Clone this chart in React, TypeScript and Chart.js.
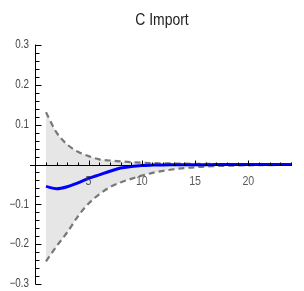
import React, { useEffect, useRef } from "react";
import { Chart, registerables } from "chart.js";

Chart.register(...registerables);

const title = "C Import";
const steps = [1, 2, 3, 4, 5, 6, 7, 8, 9, 10, 11, 12, 13, 14, 15, 16, 17, 18, 19, 20, 21, 22, 23, 24];
const meanValues = [-0.055, -0.061, -0.056, -0.046, -0.035, -0.026, -0.017, -0.009, -0.005, -0.0025, -0.0015, -0.001, -0.0008, -0.0006, -0.0005, -0.0004, -0.0003, -0.0003, -0.0002, -0.0002, -0.0001, -0.0001, -0.0001, -0.0001];
const upperValues = [0.131, 0.08, 0.05, 0.032, 0.021, 0.013, 0.01, 0.008, 0.006, 0.0045, 0.0035, 0.003, 0.0025, 0.002, 0.0018, 0.0015, 0.0013, 0.0012, 0.001, 0.0009, 0.0008, 0.0007, 0.0006, 0.0005];
const lowerValues = [-0.243, -0.205, -0.17, -0.13, -0.098, -0.075, -0.057, -0.045, -0.036, -0.028, -0.021, -0.016, -0.012, -0.009, -0.007, -0.005, -0.004, -0.003, -0.0025, -0.002, -0.0018, -0.0015, -0.0012, -0.001];
const xMinorTicks = [1, 2, 3, 4, 5, 6, 7, 8, 9, 10, 11, 12, 13, 14, 15, 16, 17, 18, 19, 20, 21, 22, 23, 24];
const xLabelTicks = [5, 10, 15, 20];
const yMajorTicks = [-0.3, -0.2, -0.1, 0.1, 0.2, 0.3];
const yLabels = ["\u22120.3", "\u22120.2", "\u22120.1", "0.1", "0.2", "0.3"];

const FONT = "'Liberation Sans', Arial, sans-serif";
const SQUEEZE = 0.82;

function squeezedText(ctx: CanvasRenderingContext2D, text: string, x: number, y: number, align: CanvasTextAlign) {
  ctx.save();
  ctx.translate(x, y);
  ctx.scale(SQUEEZE, 1);
  ctx.textAlign = align;
  ctx.fillText(text, 0, 0);
  ctx.restore();
}

const axesPlugin = {
  id: "mmaAxes",
  beforeDatasetsDraw(chart: any) {
    const ctx: CanvasRenderingContext2D = chart.ctx;
    const ys = chart.scales.y;
    ctx.save();
    ctx.textBaseline = "middle";
    ctx.fillStyle = "#222";
    ctx.font = `17px ${FONT}`;
    squeezedText(ctx, title, 162, 20.5, "center");
    ctx.fillStyle = "#444";
    ctx.font = `12px ${FONT}`;
    yMajorTicks.forEach((v, i) => {
      squeezedText(ctx, yLabels[i], 29, ys.getPixelForValue(v), "right");
    });
    ctx.restore();
  },
  afterDatasetsDraw(chart: any) {
    const ctx: CanvasRenderingContext2D = chart.ctx;
    const xs = chart.scales.x;
    const ys = chart.scales.y;
    const area = chart.chartArea;
    const x0 = Math.round(xs.getPixelForValue(0)) + 0.5;
    const y0 = Math.round(ys.getPixelForValue(0)) + 0.5;
    ctx.save();
    ctx.textBaseline = "middle";
    ctx.fillStyle = "rgba(60,60,60,0.85)";
    ctx.font = `13px ${FONT}`;
    xLabelTicks.forEach((v) => {
      squeezedText(ctx, String(v), xs.getPixelForValue(v), y0 + 16, "center");
    });
    ctx.strokeStyle = "#000";
    ctx.lineWidth = 1;
    ctx.beginPath();
    ctx.moveTo(area.left, y0);
    ctx.lineTo(area.right, y0);
    ctx.moveTo(x0, ys.getPixelForValue(0.3) - 0.5);
    ctx.lineTo(x0, ys.getPixelForValue(-0.3) + 0.5);
    xMinorTicks.forEach((v) => {
      const px = Math.round(xs.getPixelForValue(v)) + 0.5;
      const len = v % 5 === 0 ? 5 : 3;
      ctx.moveTo(px, y0);
      ctx.lineTo(px, y0 - len);
    });
    for (let k = -15; k <= 15; k++) {
      if (k === 0) continue;
      const v = k * 0.02;
      const py = Math.round(ys.getPixelForValue(v)) + 0.5;
      const len = k % 5 === 0 ? 6 : 4;
      ctx.moveTo(x0, py);
      ctx.lineTo(x0 + len, py);
    }
    ctx.stroke();
    ctx.restore();
  },
};

export default function App() {
  const ref = useRef<HTMLCanvasElement>(null);
  useEffect(() => {
    if (!ref.current) return;
    const chart = new Chart(ref.current, {
      type: "line",
      data: {
        labels: steps,
        datasets: [
          {
            data: steps.map((s, i) => ({ x: s, y: upperValues[i] })),
            borderColor: "rgb(120,120,120)",
            borderWidth: 2.2,
            borderDash: [6, 4],
            backgroundColor: "rgb(230,230,230)",
            fill: "+1",
            pointRadius: 0,
            cubicInterpolationMode: "monotone",
            order: 3,
          },
          {
            data: steps.map((s, i) => ({ x: s, y: lowerValues[i] })),
            borderColor: "rgb(120,120,120)",
            borderWidth: 2.2,
            borderDash: [6, 4],
            fill: false,
            pointRadius: 0,
            cubicInterpolationMode: "monotone",
            order: 2,
          },
          {
            data: steps.map((s, i) => ({ x: s, y: meanValues[i] })),
            borderColor: "rgb(0,0,255)",
            borderWidth: 3,
            fill: false,
            pointRadius: 0,
            cubicInterpolationMode: "monotone",
            order: 1,
          },
        ],
      },
      options: {
        responsive: false,
        animation: false,
        layout: { padding: { left: 30, right: 12, top: 45, bottom: 7 } },
        plugins: { legend: { display: false }, title: { display: false }, tooltip: { enabled: false } },
        scales: {
          x: { type: "linear", min: -0.5, max: 24.1, display: false },
          y: { type: "linear", min: -0.3, max: 0.3, display: false },
        },
      },
      plugins: [axesPlugin],
    });
    return () => chart.destroy();
  }, []);
  return (
    <div style={{ position: "fixed", left: 0, top: 0, width: 304, height: 291, background: "#fff" }}>
      <canvas ref={ref} width={304} height={291} />
    </div>
  );
}
